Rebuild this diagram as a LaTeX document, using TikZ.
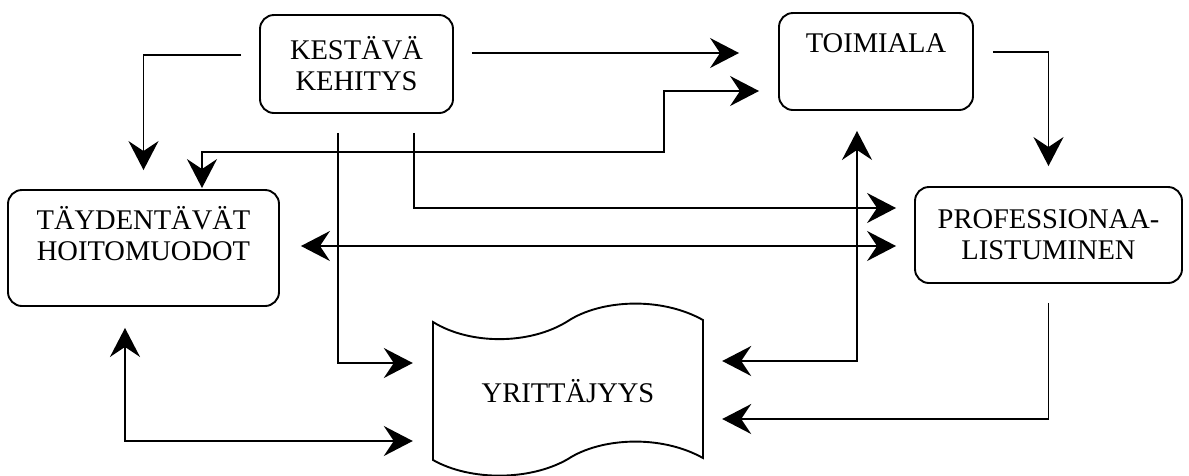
\documentclass[tikz,border=0pt]{standalone}
\usepackage{fontspec}
\setmainfont{Liberation Serif}
\usetikzlibrary{arrows.meta,calc,positioning}

\begin{document}
\begin{tikzpicture}[
      x=1pt, y=-1pt,
      font=\fontsize{28.5}{31}\selectfont,
      >={Stealth[length=29pt,width=30pt,inset=10pt]},
      arr/.style={->, line width=1.9pt},
      arr2/.style={<->, line width=1.9pt},
      box/.style={draw,rounded corners=14pt,line width=1.9pt,align=center},
      txt/.style={inner sep=0pt,align=center}
    ]
    \useasboundingbox (0,0) rectangle (1189,475);

    % Boxes
    \node (kest) [box, minimum width=193pt, minimum height=98pt]  at (356.5,64)  {KESTÄVÄ\\KEHITYS};
    \node (toim) [box, minimum width=194pt, minimum height=97pt]  at (876,61.5)  {};
    \node (tayd) [box, minimum width=271pt, minimum height=116pt] at (143.5,248) {};
    \node (prof) [box, minimum width=267pt, minimum height=96pt]  at (1048.5,235) {PROFESSIONAA-\\LISTUMINEN};
    \node (yrit) [txt, minimum width=270pt, minimum height=138pt] at (568,391)   {YRITTÄJYYS};

    \node (toim_t) [txt, below=21pt of toim.north] {TOIMIALA};
    \node (tayd_t) [txt, below=17pt of tayd.north] {TÄYDENTÄVÄT\\HOITOMUODOT};

    % Tape shape round YRITTAJYYS
    \draw[line width=1.9pt] (433,322) .. controls (470,345) and (530,345) .. (568,321)
        .. controls (600,300) and (660,296) .. (703,320) -- (703,458)
        .. controls (660,434) and (600,438) .. (568,459)
        .. controls (530,481) and (470,481) .. (433,460) -- cycle;

    % Arrows from KESTAVA KEHITYS
    \draw[arr, shorten <=18pt, shorten >=19pt] ($(kest.west)+(0,-9)$) -| (tayd.north);
    \draw[arr, shorten <=18pt, shorten >=39pt] ($(kest.east)+(0,-11)$) -- ($(toim.west)+(0,-8.5)$);
    \draw[arr, shorten <=19pt, shorten >=18pt] ($(kest.south)+(57.5,0)$) |- ($(prof.west)+(0,-27)$);
    \draw[arr, shorten <=19pt, shorten >=20pt] ($(kest.south)+(-18.5,0)$) |- ($(yrit.west)+(0,-28)$);

    % Two-way arrows
    \draw[arr2, shorten >=19pt] ($(tayd.north)+(58.5,-1)$) |- (664,152) |- ($(toim.west)+(0,29.5)$);
    \draw[arr2, shorten <=21pt, shorten >=18pt] ($(tayd.east)+(0,-2)$) -- ($(prof.west)+(0,11)$);
    \draw[arr2, shorten <=20pt, shorten >=19pt] ($(toim.south)+(-19,0)$) |- ($(yrit.east)+(0,-30)$);
    \draw[arr2, shorten <=21pt, shorten >=20pt] ($(tayd.south)+(-18.5,0)$) |- ($(yrit.west)+(0,50)$);

    % Other arrows
    \draw[arr, shorten <=19pt, shorten >=20pt] ($(toim.east)+(0,-9.5)$) -| (prof.north);
    \draw[arr, shorten <=19pt, shorten >=19pt] (prof.south) |- ($(yrit.east)+(0,28)$);
  \end{tikzpicture}
\end{document}
